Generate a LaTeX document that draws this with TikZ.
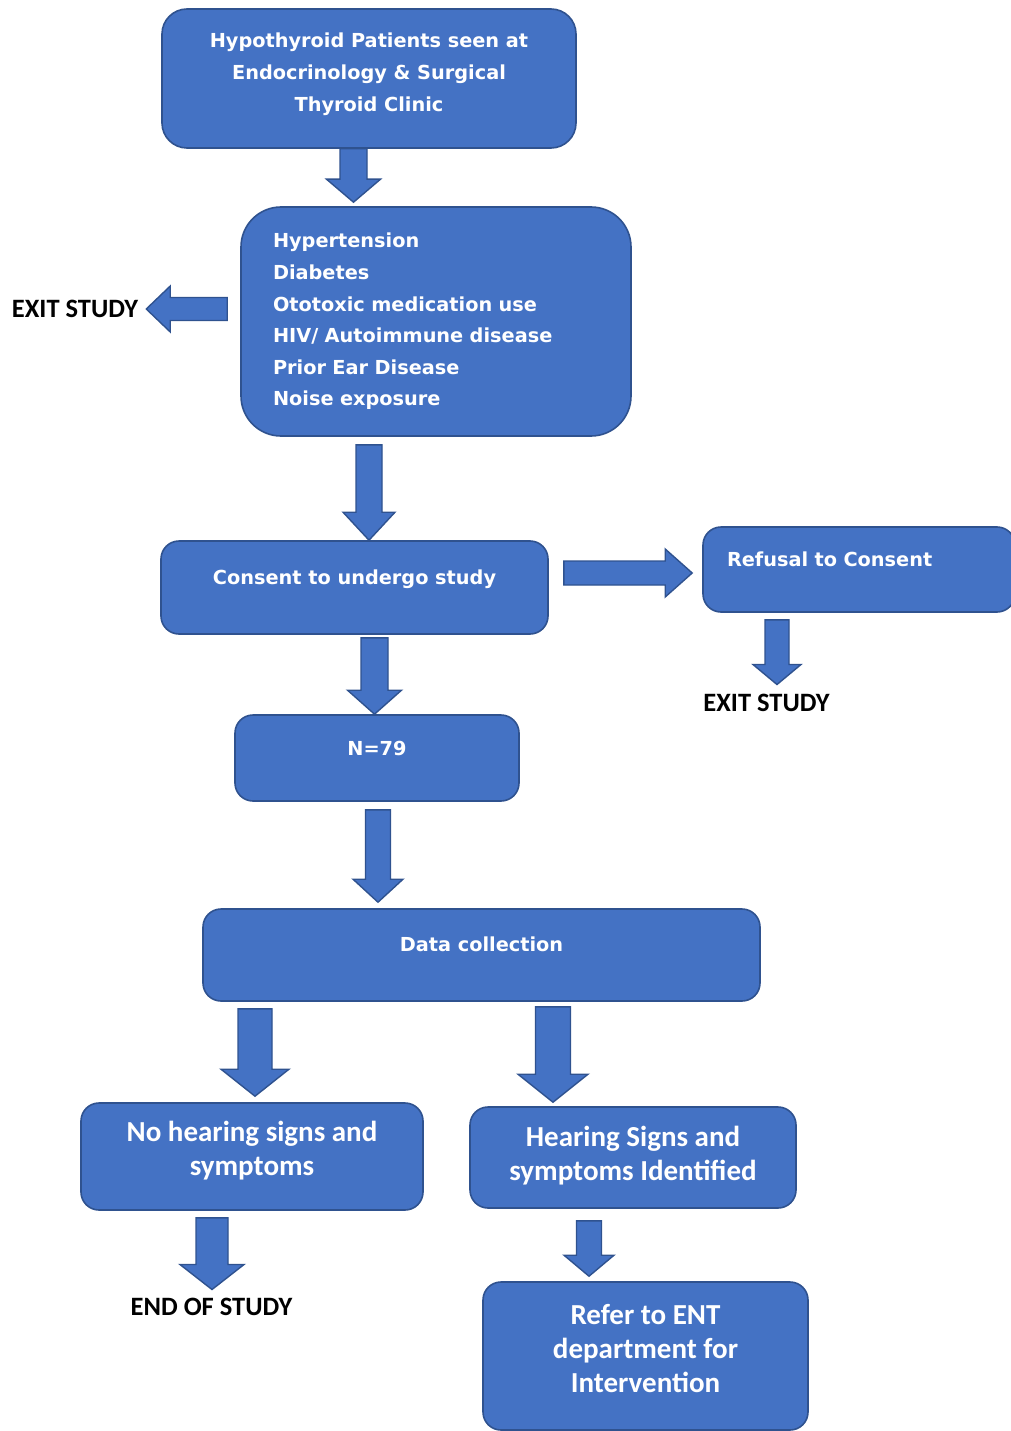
\documentclass[tikz,border=0pt]{standalone}
\usepackage{fontspec}
\setmainfont{DejaVu Sans}
\newfontfamily\carlito{Carlito}
\usetikzlibrary{calc}
\definecolor{boxblue}{RGB}{68,114,196}
\definecolor{boxline}{RGB}{47,82,143}
\newcommand{\topfont}{\bfseries\fontsize{19.3}{31.6}\selectfont}
\newcommand{\lowfont}{\carlito\bfseries\fontsize{29}{34}\selectfont}
% block arrow: tail, tip, half shaft width, head length
\newcommand{\blockarrow}[4]{%
  \coordinate (hb) at ($(#2)!#4!(#1)$);
  \filldraw[barrow] ($(#1)!#3!90:(#2)$) -- ($(hb)!#3!90:(#2)$) -- ($(hb)!2*#3!90:(#2)$) -- (#2)
    -- ($(hb)!2*#3!-90:(#2)$) -- ($(hb)!#3!-90:(#2)$) -- ($(#1)!#3!-90:(#2)$) -- cycle;}
\tikzset{
  boxnode/.style={rectangle, rounded corners=18pt, draw=boxline, line width=1.6pt, fill=boxblue, text=white, font=\topfont},
  barrow/.style={draw=boxline, line width=1.4pt, fill=boxblue, line join=miter},
  exitlabel/.style={inner sep=0pt, font=\carlito\bfseries\fontsize{26.5}{30}\selectfont}
}
\begin{document}
\begin{tikzpicture}[x=1pt, y=-1pt]
\useasboundingbox (0,0) rectangle (1010,1431);
\node[boxnode, rounded corners=25pt, text width=414pt, inner sep=0pt, align=flush center, text height=39pt, text depth=100pt] (hypo) at (369,78.5) {Hypothyroid Patients seen at\\Endocrinology \& Surgical\\Thyroid Clinic};
\node[boxnode, rounded corners=40pt, minimum height=229pt, text width=326pt, inner xsep=32pt, align=left] (sympt) at (436,321.5) {Hypertension\\Diabetes\\Ototoxic medication use\\HIV/ Autoimmune disease\\Prior Ear Disease\\Noise exposure};
\node[exitlabel] (exit1) at (75,309) {EXIT STUDY};
\node[boxnode, minimum width=387pt, text height=43pt, text depth=50pt, inner ysep=0pt] (consent) at (354.5,587.5) {Consent to undergo study};
\node[boxnode, text width=264pt, inner xsep=24pt, align=left, text height=39pt, text depth=46pt, inner ysep=0pt] (refusal) at (859,569.5) {Refusal to Consent};
\node[exitlabel] (exit2) at (766.5,703) {EXIT STUDY};
\node[boxnode, minimum width=284pt, text height=40pt, text depth=46pt, inner ysep=0pt] (nval) at (377,758) {N=79};
\node[boxnode, minimum width=557pt, text height=42pt, text depth=50pt, inner ysep=0pt] (data) at (481.5,955) {Data collection};
\node[boxnode, font=\lowfont, text width=342pt, inner sep=0pt, align=flush center, text height=38.5pt, text depth=68.5pt] (nohear) at (252,1156.5) {No hearing signs and\\symptoms};
\node[boxnode, font=\lowfont, text width=326pt, inner sep=0pt, align=flush center, text height=39.5pt, text depth=61.5pt] (hear) at (633,1157.5) {Hearing Signs and\\symptoms Identified};
\node[exitlabel] (endst) at (211.5,1307) {END OF STUDY};
\node[boxnode, font=\lowfont, text width=325pt, inner sep=0pt, align=flush center, text height=42.5pt, text depth=105.5pt] (refer) at (645.5,1356) {Refer to ENT\\department for\\Intervention};
% arrow ends
\coordinate (t1) at ($(hypo.south)+(-15.5,0)$);
\coordinate (h1) at ($(t1 |- sympt.north)+(0,-4)$);
\coordinate (t2) at ($(sympt.west)+(-13,-12.5)$);
\coordinate (h2) at ($(exit1.east)+(8,0)$);
\coordinate (t3) at ($(sympt.south)+(-67,8)$);
\coordinate (h3) at (t3 |- consent.north);
\coordinate (t4) at ($(consent.east)+(15,-14.5)$);
\coordinate (h4) at ($(t4 -| refusal.west)+(-10,0)$);
\coordinate (t5) at ($(refusal.south)+(-82,7)$);
\coordinate (h5) at ($(t5 |- exit2.north)+(0,-9.5)$);
\coordinate (t6) at ($(consent.south)+(20,3)$);
\coordinate (h6) at (t6 |- nval.north);
\coordinate (t7) at ($(nval.south)+(1,8)$);
\coordinate (h7) at ($(t7 |- data.north)+(0,-6)$);
\coordinate (t8) at ($(data.south)+(-226.5,7)$);
\coordinate (h8) at ($(t8 |- nohear.north)+(0,-6)$);
\coordinate (t9) at ($(data.south)+(71.5,5)$);
\coordinate (h9) at ($(t9 |- hear.north)+(0,-4)$);
\coordinate (t10) at ($(nohear.south)+(-40,7)$);
\coordinate (h10) at ($(t10 |- endst.north)+(0,-8.5)$);
\coordinate (t11) at ($(hear.south)+(-44,12)$);
\coordinate (h11) at ($(t11 |- refer.north)+(0,-5)$);
\blockarrow{t1}{h1}{13.5pt}{23pt}
\blockarrow{t2}{h2}{11.5pt}{24pt}
\blockarrow{t3}{h3}{13pt}{28pt}
\blockarrow{t4}{h4}{12pt}{27pt}
\blockarrow{t5}{h5}{12pt}{20pt}
\blockarrow{t6}{h6}{13.5pt}{24pt}
\blockarrow{t7}{h7}{12.5pt}{23pt}
\blockarrow{t8}{h8}{17pt}{27pt}
\blockarrow{t9}{h9}{17.5pt}{28pt}
\blockarrow{t10}{h10}{16pt}{25pt}
\blockarrow{t11}{h11}{12.5pt}{21pt}
\end{tikzpicture}
\end{document}
